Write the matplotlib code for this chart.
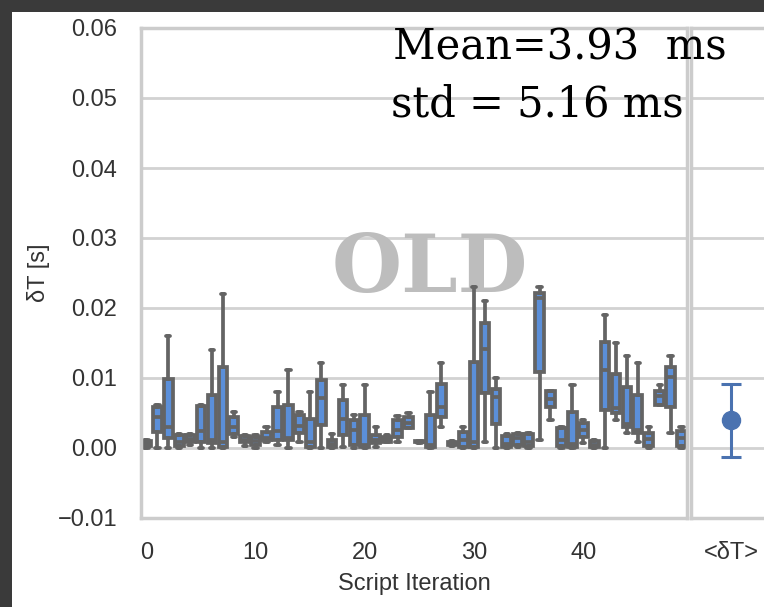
import matplotlib.pyplot as plt
from matplotlib.patches import Rectangle
from matplotlib.ticker import FuncFormatter

plt.rcParams['font.family'] = ['Liberation Sans', 'DejaVu Sans']

# per-iteration box stats, in ms
iterations = list(range(50))
whislo = [0, 0, 0, 0, 0.5, 0, 0, 0, 1.6, 0.3,
          0, 0.8, 0.5, 0, 0.9, 0, 0, 0, 0.2, 0,
          0, 0.2, 0.8, 0.9, 2.9, 0.7, 0, 3.0, 0.3, 0,
          0, 0.9, 0, 0, 0.2, 0, 1.1, 4.0, 0, 0,
          0.7, 0, 0, 4.0, 2.1, 0.9, 0, 6.1, 2.1, 0]
q1 = [0.3, 2.3, 1.5, 0.3, 0.9, 0.8, 0.7, 0.2, 2.0, 0.8,
      0.5, 1.1, 1.1, 1.1, 2.1, 0.2, 3.3, 0.2, 1.9, 0.4,
      0.2, 0.7, 0.9, 1.6, 2.9, 0.8, 0.2, 4.4, 0.4, 0.2,
      0.2, 7.8, 3.5, 0.2, 0.5, 0.3, 10.9, 5.9, 0.3, 0.2,
      1.6, 0.2, 5.4, 5.0, 3.0, 2.1, 0.3, 6.1, 5.9, 0.3]
med = [0.6, 4.5, 3.0, 0.8, 1.3, 2.5, 1.2, 0.9, 3.0, 1.2,
       1.0, 1.5, 2.5, 1.4, 3.2, 0.8, 7.1, 0.6, 4.2, 2.6,
       0.5, 1.2, 1.2, 2.6, 3.6, 0.9, 0.5, 5.9, 0.6, 1.2,
       0.8, 14.2, 7.3, 0.6, 1.5, 0.8, 21.5, 7.0, 1.2, 0.6,
       2.6, 0.5, 11.1, 5.7, 3.5, 2.6, 1.3, 7.4, 10.1, 1.4]
q3 = [1.0, 5.9, 9.8, 1.8, 1.8, 6.0, 7.6, 11.6, 4.4, 1.7,
      1.6, 2.3, 5.8, 6.1, 4.7, 4.2, 9.7, 1.1, 6.8, 4.0,
      4.7, 1.9, 1.6, 4.0, 4.5, 1.0, 4.7, 9.2, 0.9, 2.3,
      12.3, 17.8, 8.5, 1.7, 2.0, 2.0, 22.2, 8.2, 2.8, 5.2,
      3.6, 1.0, 15.2, 10.6, 8.7, 7.6, 2.1, 8.2, 11.6, 2.4]
whishi = [1.2, 6.1, 16.0, 2.0, 2.0, 6.2, 14.0, 22.0, 5.2, 1.9,
          1.8, 3.0, 8.0, 11.1, 5.1, 8.0, 12.1, 2.0, 9.0, 4.7,
          9.0, 3.0, 1.8, 4.6, 5.0, 1.0, 8.0, 12.1, 1.0, 3.0,
          23.0, 21.0, 10.0, 2.0, 2.1, 2.1, 23.0, 8.2, 3.0, 9.0,
          4.0, 1.1, 19.0, 15.0, 13.1, 12.1, 3.0, 9.0, 13.1, 3.0]

mean_ms = 3.93
std_ms = 5.16

yticks = [-0.01, 0.0, 0.01, 0.02, 0.03, 0.04, 0.05, 0.06]
xticks = [0, 10, 20, 30, 40]

grey = '#646464'
grid_c = '#d2d2d2'
text_c = '#333333'

fig = plt.figure(figsize=(7.64, 6.07), dpi=100, facecolor='#3a3a3a')
fig.patches.append(Rectangle((12 / 764, 0), 1, 1 - 12 / 607, transform=fig.transFigure,
                             facecolor='white', edgecolor='none', zorder=-5))

W, H = 764, 607
ax = fig.add_axes([141 / W, 89 / H, 546 / W, 490 / H])
ax2 = fig.add_axes([691 / W, 89 / H, 80 / W, 490 / H])

stats = []
for i in iterations:
    stats.append(dict(whislo=whislo[i] / 1000, q1=q1[i] / 1000, med=med[i] / 1000,
                      q3=q3[i] / 1000, whishi=whishi[i] / 1000, label=str(i)))

ax.bxp(stats, positions=iterations, widths=0.8, capwidths=0.4, showfliers=False,
       patch_artist=True,
       boxprops=dict(facecolor='#5b8fd9', edgecolor=grey, linewidth=2.7),
       whiskerprops=dict(color=grey, linewidth=2.7),
       capprops=dict(color=grey, linewidth=2.7, solid_capstyle='round'),
       medianprops=dict(color=grey, linewidth=2.7))

fmt = FuncFormatter(lambda v, p: f'{v:.2f}'.replace('-', '\u2212'))
for a in (ax, ax2):
    a.set_ylim(-0.01, 0.06)
    a.set_yticks(yticks)
    a.yaxis.grid(True, color=grid_c, linewidth=2)
    a.set_axisbelow(True)
    for s in a.spines.values():
        s.set_color('#cccccc')
        s.set_linewidth(2.5)
    a.tick_params(length=0, labelsize=17, labelcolor=text_c, pad=17)

ax.yaxis.set_major_formatter(fmt)
ax.set_xlim(-0.5, 49.5)
ax.set_xticks(xticks)
ax.set_xticklabels([str(t) for t in xticks])
ax.set_xlabel('Script Iteration', fontsize=17, color=text_c)
ax.xaxis.set_label_coords(0.5, -0.112)
ax.set_ylabel('\u03b4T [s]', fontsize=17, color=text_c)
ax.yaxis.set_label_coords(-0.167, 0.5)

ax.text(0.529, 0.506, 'OLD', transform=ax.transAxes, ha='center', va='center',
        fontsize=58, fontweight='bold', family='DejaVu Serif', color='#bdbdbd', zorder=1)

ax2.errorbar([0], [mean_ms / 1000], yerr=[std_ms / 1000], fmt='o', color='#4a72b0',
             markersize=13, capsize=7, elinewidth=2.2, capthick=2.2)
ax2.set_xlim(-0.5, 0.5)
ax2.set_xticks([0])
ax2.set_xticklabels(['<\u03b4T>'])
ax2.set_yticklabels([])

fig.text(393 / W, 1 - 60 / H, 'Mean=3.93  ms', family='DejaVu Serif', fontsize=30,
         va='baseline', color='black')
fig.text(391 / W, 1 - 116 / H, 'std = 5.16 ms', family='DejaVu Serif', fontsize=30,
         va='baseline', color='black')

fig.savefig('out.png', dpi=100, facecolor=fig.get_facecolor())
